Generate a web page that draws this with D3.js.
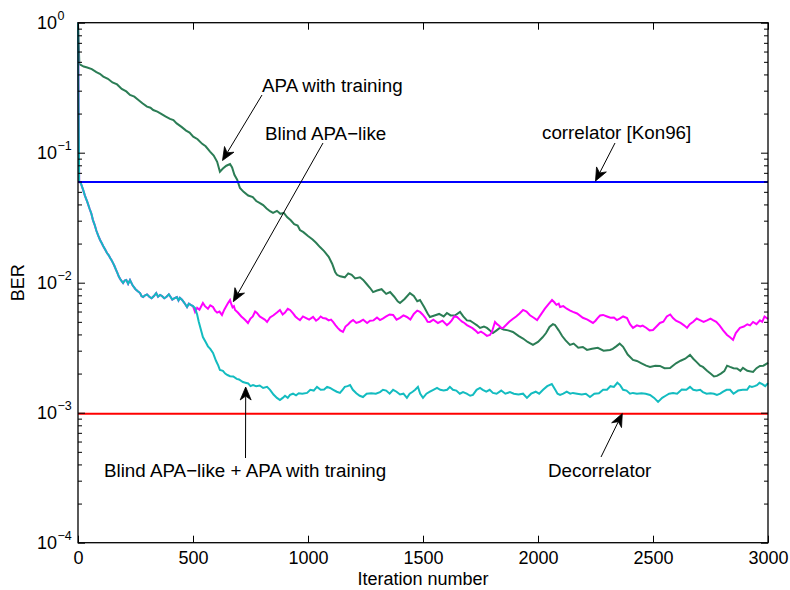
<!DOCTYPE html>
<html><head><meta charset="utf-8">
<script src="https://cdn.jsdelivr.net/npm/d3@7"></script>
<style>
body{margin:0;background:#fff}
svg{display:block}
text{font-family:Arial,"Liberation Sans",Helvetica,sans-serif;fill:#000}
</style>
</head><body>
<svg id="c" width="790" height="590"></svg>
<script>
// ---------- data ----------
const xTicks = [0, 500, 1000, 1500, 2000, 2500, 3000];
const yDecades = [1e-4, 1e-3, 1e-2, 1e-1, 1];
const yExponents = ["\u22124", "\u22123", "\u22122", "\u22121", "0"];

// APA with training (green)
const apaIter = [0,6,25,40,60,80,95,110,130,150,170,190,210,226,245,260,280,300,315,327,345,360,380,400,415,429,450,470,485,501,520,540,555,574,590,605,617,630,645,661,670,680,692,704,720,740,760,775,791,805,820,835,848,865,880,895,909,925,940,955,965,980,1000,1020,1035,1052,1070,1090,1105,1118,1126,1140,1160,1175,1190,1205,1226,1240,1255,1270,1283,1300,1320,1340,1357,1375,1390,1400,1420,1443,1460,1475,1487,1505,1520,1530,1550,1570,1590,1604,1620,1640,1661,1675,1691,1705,1720,1735,1748,1765,1778,1790,1804,1820,1835,1850,1870,1891,1915,1935,1955,1978,2000,2020,2035,2050,2065,2074,2090,2105,2120,2139,2155,2175,2195,2213,2235,2260,2285,2313,2325,2340,2355,2370,2390,2413,2430,2450,2470,2487,2510,2530,2550,2574,2600,2620,2640,2661,2675,2690,2705,2717,2735,2750,2765,2778,2795,2810,2822,2835,2850,2865,2880,2891,2910,2935,2950,2965,2980,3000];
const apaBer  = [1.0,0.479,0.46,0.452,0.44,0.417,0.405,0.385,0.37,0.347,0.335,0.309,0.296,0.278,0.27,0.257,0.24,0.226,0.222,0.213,0.207,0.2,0.19,0.182,0.178,0.168,0.158,0.148,0.143,0.133,0.127,0.117,0.112,0.102,0.095,0.0851,0.0714,0.0755,0.0794,0.0818,0.077,0.0676,0.062,0.0535,0.05,0.0468,0.0455,0.0425,0.041,0.0395,0.0372,0.0355,0.0344,0.0357,0.0339,0.0345,0.032,0.0302,0.0282,0.0275,0.0254,0.0245,0.0229,0.0215,0.0203,0.0188,0.0175,0.0158,0.014,0.0121,0.0115,0.0112,0.011,0.0118,0.0115,0.0108,0.011,0.0105,0.00977,0.0091,0.00847,0.0087,0.00891,0.0082,0.00847,0.0078,0.0072,0.00698,0.0075,0.00832,0.0079,0.0072,0.00736,0.0065,0.0058,0.00545,0.0056,0.00575,0.0055,0.00585,0.0056,0.00562,0.00596,0.0055,0.00513,0.0051,0.0049,0.0047,0.00449,0.0046,0.00449,0.0043,0.0041,0.0043,0.0045,0.00437,0.0043,0.00418,0.0039,0.00372,0.0035,0.00332,0.0035,0.0038,0.0041,0.00457,0.0048,0.00473,0.0043,0.00389,0.0036,0.00332,0.0034,0.00316,0.0032,0.00304,0.0031,0.00316,0.003,0.00304,0.0031,0.00324,0.0034,0.00321,0.0028,0.00255,0.0025,0.0024,0.0023,0.00225,0.0023,0.00229,0.0022,0.00221,0.0024,0.00251,0.0026,0.00278,0.0026,0.00245,0.0023,0.00225,0.0021,0.002,0.0019,0.00192,0.002,0.00209,0.0023,0.00225,0.0022,0.00219,0.0021,0.00221,0.0021,0.00206,0.0022,0.00229,0.0023,0.00242];

// common start of both blind curves (0..500)
const startIter = [0,5,12,22,30,40,50,58,65,72,80,88,96,103,110,118,126,133,140,146,152,158,165,172,178,186,196,203,210,218,226,238,250,260,270,276,283,292,300,310,320,330,340,348,357,365,375,385,395,402,410,420,430,437,443,452,460,467,474,482,490,500];
const startBer  = [1.0,0.0603,0.0585,0.052,0.0468,0.042,0.0372,0.034,0.0303,0.028,0.0251,0.023,0.0213,0.0202,0.0191,0.018,0.0169,0.0163,0.0155,0.0149,0.0142,0.0135,0.0126,0.0118,0.0111,0.0105,0.00995,0.0104,0.0105,0.0098,0.0105,0.0095,0.00891,0.0086,0.00832,0.0079,0.00776,0.008,0.00813,0.0078,0.00759,0.0079,0.00832,0.0078,0.00805,0.0079,0.00759,0.0078,0.00813,0.0078,0.00741,0.0076,0.00776,0.0073,0.00764,0.0074,0.00708,0.0068,0.0065,0.0069,0.00676,0.0066];

// Blind APA-like (magenta), after 500
const blindIter = [509,518,528,543,552,565,575,587,596,605,615,626,636,645,653,661,667,672,678,683,695,710,720,730,739,750,760,770,778,790,800,812,822,835,850,865,878,890,900,912,922,935,945,955,965,978,990,1005,1022,1035,1045,1055,1065,1078,1090,1100,1109,1120,1130,1140,1152,1163,1175,1185,1196,1210,1225,1240,1257,1270,1285,1300,1313,1325,1340,1355,1370,1385,1400,1415,1430,1445,1460,1475,1487,1498,1510,1520,1530,1545,1565,1585,1604,1615,1625,1636,1648,1660,1670,1680,1691,1703,1715,1727,1739,1752,1765,1778,1791,1800,1813,1822,1830,1840,1848,1860,1875,1890,1905,1920,1935,1950,1965,1980,1996,2010,2030,2045,2061,2070,2080,2090,2096,2110,2125,2140,2152,2170,2195,2215,2239,2250,2260,2270,2283,2300,2315,2330,2343,2355,2370,2387,2400,2413,2430,2445,2455,2470,2485,2500,2515,2530,2545,2560,2575,2587,2600,2620,2635,2648,2660,2675,2690,2704,2720,2735,2750,2761,2775,2790,2805,2822,2835,2848,2860,2878,2895,2910,2922,2935,2950,2965,2975,2985,3000];
const blindBer  = [0.00596,0.0064,0.0062,0.00698,0.0066,0.00631,0.0067,0.0065,0.0061,0.00589,0.006,0.00565,0.0062,0.00661,0.007,0.00736,0.0068,0.00646,0.0066,0.00617,0.0059,0.0055,0.0053,0.0051,0.0049,0.0053,0.0055,0.006,0.00585,0.0055,0.00537,0.0052,0.00499,0.0054,0.00562,0.0059,0.00617,0.0057,0.00589,0.0063,0.00617,0.0058,0.0055,0.0053,0.00516,0.0055,0.00537,0.0052,0.00545,0.0051,0.00525,0.0055,0.00535,0.0053,0.00513,0.0052,0.00499,0.0047,0.00447,0.0043,0.00418,0.0046,0.00479,0.005,0.00516,0.0049,0.00501,0.0052,0.0049,0.0051,0.00513,0.0054,0.00516,0.0053,0.0055,0.0057,0.00565,0.0052,0.00537,0.0056,0.00545,0.0052,0.00575,0.0061,0.00596,0.0057,0.00537,0.005,0.00499,0.0052,0.0049,0.0051,0.00472,0.0049,0.00513,0.0055,0.00545,0.0052,0.00501,0.0049,0.00472,0.0046,0.00447,0.0043,0.0041,0.0042,0.00407,0.0039,0.00396,0.0042,0.00499,0.0048,0.00468,0.0045,0.00449,0.0047,0.005,0.00525,0.0055,0.0058,0.00617,0.006,0.00562,0.0054,0.00516,0.0056,0.00631,0.0068,0.00736,0.0071,0.00676,0.0069,0.0065,0.0066,0.00631,0.0061,0.00596,0.0058,0.00537,0.0052,0.0049,0.0051,0.00537,0.0056,0.00565,0.0055,0.00537,0.0054,0.00516,0.0053,0.0055,0.00535,0.0048,0.00449,0.0047,0.0046,0.00468,0.0045,0.0043,0.00433,0.0046,0.0049,0.00501,0.0055,0.0057,0.00535,0.0051,0.0049,0.0047,0.00449,0.0048,0.00501,0.0053,0.00516,0.005,0.00513,0.0053,0.00516,0.005,0.00468,0.0043,0.00396,0.0038,0.00363,0.0041,0.00449,0.0046,0.00479,0.0047,0.00499,0.0048,0.00513,0.005,0.0055,0.00525];

// Blind APA-like + APA with training (cyan), after 500
const comboIter = [509,518,525,535,543,555,565,575,587,600,610,617,630,640,650,661,675,690,700,717,728,740,750,761,775,790,805,822,835,850,865,878,890,900,912,922,935,948,960,975,996,1010,1025,1039,1055,1070,1083,1096,1110,1125,1139,1150,1160,1172,1183,1195,1210,1225,1239,1255,1275,1295,1313,1326,1340,1355,1370,1385,1400,1415,1430,1442,1455,1466,1478,1488,1500,1515,1530,1545,1561,1575,1590,1605,1617,1630,1645,1660,1674,1690,1705,1717,1733,1748,1760,1775,1790,1804,1820,1840,1858,1878,1895,1915,1935,1952,1970,1990,2005,2022,2040,2060,2075,2085,2096,2110,2125,2140,2152,2170,2190,2208,2226,2245,2265,2283,2300,2315,2330,2345,2357,2370,2385,2400,2413,2430,2450,2468,2487,2505,2522,2540,2555,2570,2587,2605,2625,2645,2661,2675,2690,2705,2717,2733,2750,2765,2778,2792,2805,2820,2835,2850,2870,2890,2909,2920,2930,2942,2952,2963,2975,2988,3000];
const comboBer  = [0.00638,0.0057,0.00501,0.0043,0.00382,0.0035,0.00324,0.0031,0.00288,0.00251,0.0023,0.00213,0.0021,0.002,0.00195,0.00191,0.0019,0.00182,0.0018,0.00172,0.0017,0.00168,0.0016,0.00163,0.0016,0.00162,0.00155,0.00158,0.0015,0.00138,0.0013,0.00125,0.0013,0.00135,0.0013,0.00137,0.0014,0.00136,0.00141,0.0014,0.00142,0.0015,0.00148,0.00158,0.0015,0.00151,0.00158,0.00155,0.0015,0.00145,0.00142,0.0015,0.00158,0.0016,0.00163,0.0015,0.00141,0.00135,0.00132,0.0014,0.00141,0.0014,0.00144,0.0015,0.00148,0.0014,0.0015,0.00145,0.00138,0.0014,0.0013,0.0014,0.00145,0.0015,0.00158,0.0014,0.0013,0.0014,0.00145,0.0015,0.00155,0.0015,0.00148,0.0015,0.00158,0.0015,0.00148,0.0014,0.00144,0.0014,0.00135,0.00137,0.0015,0.00155,0.0015,0.00145,0.0015,0.00142,0.0014,0.00148,0.0014,0.00144,0.0014,0.00138,0.0014,0.0013,0.0014,0.00145,0.0014,0.0015,0.0016,0.00166,0.0015,0.0014,0.00137,0.0014,0.00145,0.0014,0.00142,0.0014,0.00138,0.0014,0.00132,0.0014,0.00141,0.0015,0.0015,0.0016,0.00158,0.0017,0.00163,0.0015,0.00148,0.0014,0.00142,0.0014,0.00141,0.0014,0.00137,0.0013,0.00121,0.0013,0.00135,0.0014,0.00142,0.0014,0.00151,0.0015,0.00158,0.0015,0.00148,0.0015,0.00144,0.0014,0.00141,0.0014,0.00137,0.0014,0.00145,0.0015,0.0015,0.0014,0.00148,0.0015,0.0015,0.0016,0.00158,0.0016,0.00163,0.0017,0.00166,0.0016,0.00169];

// reference levels
const correlatorBer = 0.0596;
const decorrelatorBer = 0.00098;

// ---------- drawing ----------
const svg = d3.select("#c");
const L = 78, R = 768, T = 22.7, B = 542.7;
const x = d3.scaleLinear().domain([0, 3000]).range([L, R]);
const y = d3.scaleLog().domain([1e-4, 1]).range([B, T]);

const line = d3.line().x(d => x(d[0])).y(d => y(d[1]));
const startPts = d3.zip(startIter, startBer);

const plot = svg.append("g");
plot.append("path").datum(d3.zip(apaIter, apaBer))
  .attr("d", line).attr("fill", "none").attr("stroke", "#2b7d55").attr("stroke-width", 2);
plot.append("path").datum(startPts.concat(d3.zip(blindIter, blindBer)))
  .attr("d", line).attr("fill", "none").attr("stroke", "#ff00ff").attr("stroke-width", 2);
plot.append("path").datum(startPts.concat(d3.zip(comboIter, comboBer)))
  .attr("d", line).attr("fill", "none").attr("stroke", "#13bcc0").attr("stroke-width", 2);

plot.append("line").attr("x1", x(0)).attr("x2", x(3000))
  .attr("y1", y(correlatorBer)).attr("y2", y(correlatorBer))
  .attr("stroke", "#0000ff").attr("stroke-width", 2);
plot.append("line").attr("x1", x(0)).attr("x2", x(3000))
  .attr("y1", y(decorrelatorBer)).attr("y2", y(decorrelatorBer))
  .attr("stroke", "#ff0000").attr("stroke-width", 2);

// axes
const minorY = y.ticks().filter(v => !yDecades.some(d => Math.abs(d - v) / d < 1e-9));
function styleAxis(g) {
  g.select(".domain").remove();
  g.selectAll(".tick line").attr("stroke", "#000").attr("stroke-width", 1);
}
svg.append("g").attr("transform", `translate(0,${B})`)
  .call(d3.axisBottom(x).tickValues(xTicks).tickSize(-7).tickSizeOuter(0).tickPadding(9).tickFormat(d3.format("d")))
  .call(styleAxis)
  .call(g => g.selectAll("text").attr("font-size", 18).attr("font-family", "Arial, 'Liberation Sans', sans-serif").attr("fill", "#000"));
svg.append("g").attr("transform", `translate(0,${T})`)
  .call(d3.axisTop(x).tickValues(xTicks).tickSize(-7).tickSizeOuter(0).tickFormat(""))
  .call(styleAxis);
svg.append("g").attr("transform", `translate(${L},0)`)
  .call(d3.axisLeft(y).tickValues(yDecades).tickSize(-7).tickSizeOuter(0).tickFormat(""))
  .call(styleAxis);
svg.append("g").attr("transform", `translate(${L},0)`)
  .call(d3.axisLeft(y).tickValues(minorY).tickSize(-4).tickSizeOuter(0).tickFormat(""))
  .call(styleAxis);
svg.append("g").attr("transform", `translate(${R},0)`)
  .call(d3.axisRight(y).tickValues(yDecades).tickSize(-7).tickSizeOuter(0).tickFormat(""))
  .call(styleAxis);
svg.append("g").attr("transform", `translate(${R},0)`)
  .call(d3.axisRight(y).tickValues(minorY).tickSize(-4).tickSizeOuter(0).tickFormat(""))
  .call(styleAxis);

// y tick labels 10^k
const yl = svg.append("g");
yDecades.forEach((v, i) => {
  yl.append("text").attr("x", 57).attr("y", y(v) + 6.5)
    .attr("text-anchor", "end").attr("font-size", 18).text("10");
  yl.append("text").attr("x", 57.5).attr("y", y(v) - 3)
    .attr("text-anchor", "start").attr("font-size", 12.5).text(yExponents[i]);
});

// frame
svg.append("rect").attr("x", L).attr("y", T).attr("width", R - L).attr("height", B - T)
  .attr("fill", "none").attr("stroke", "#000").attr("stroke-width", 1.3);

// axis titles
svg.append("text").attr("x", (L + R) / 2).attr("y", 585).attr("text-anchor", "middle")
  .attr("font-size", 18).text("Iteration number");
svg.append("text").attr("transform", `translate(24,${(T + B) / 2}) rotate(-90)`)
  .attr("text-anchor", "middle").attr("font-size", 18).text("BER");

// annotations
const ann = svg.append("g");
function arrow(x1, y1, x2, y2) {
  const a = Math.atan2(y2 - y1, x2 - x1);
  const hl = 13, hw = 5.5;
  const bx = x2 - hl * Math.cos(a), by = y2 - hl * Math.sin(a);
  const ix = x2 - hl * 0.7 * Math.cos(a), iy = y2 - hl * 0.7 * Math.sin(a);
  const px = -Math.sin(a) * hw, py = Math.cos(a) * hw;
  ann.append("line").attr("x1", x1).attr("y1", y1).attr("x2", ix).attr("y2", iy)
    .attr("stroke", "#000").attr("stroke-width", 1);
  ann.append("path").attr("d", `M${x2},${y2}L${bx + px},${by + py}L${ix},${iy}L${bx - px},${by - py}Z`)
    .attr("fill", "#000").attr("stroke", "#000").attr("stroke-width", 0.8);
}
function label(tx, ty, s) {
  ann.append("text").attr("x", tx).attr("y", ty).attr("font-size", 18.8).text(s);
}
label(262, 92, "APA with training");
arrow(262, 95, 222.5, 160.5);
label(265, 139.5, "Blind APA\u2212like");
arrow(323, 143, 233.3, 301.7);
label(542, 139, "correlator [Kon96]");
arrow(615, 143, 595.5, 181);
label(104, 477, "Blind APA\u2212like + APA with training");
arrow(245.5, 458, 245.7, 387);
label(548, 477, "Decorrelator");
arrow(601, 457, 622.3, 413.5);
</script>
</body></html>
